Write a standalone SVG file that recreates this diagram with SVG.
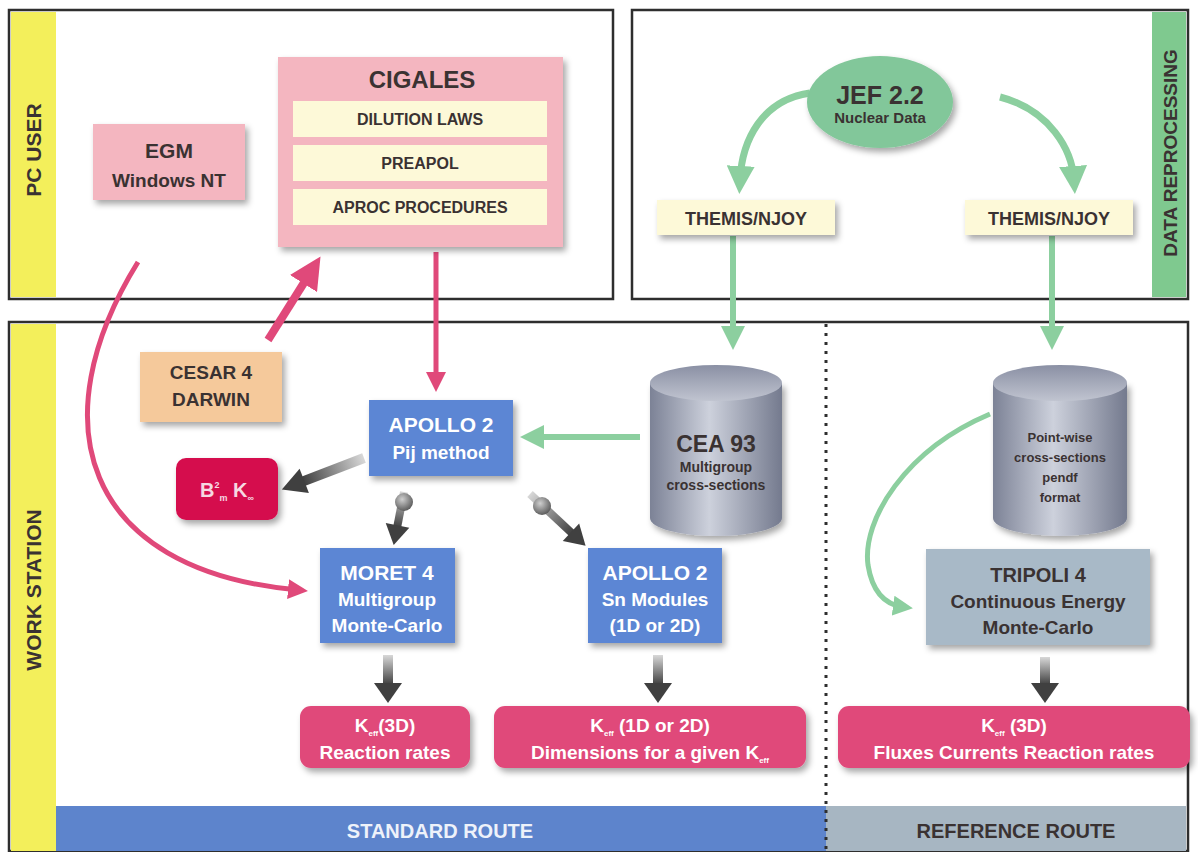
<svg xmlns="http://www.w3.org/2000/svg" width="1198" height="852" viewBox="0 0 1198 852">
<defs>
<style>
text{font-family:"Liberation Sans",Arial,sans-serif;font-weight:bold;text-anchor:middle}
.dk{fill:#3a3232}
.wt{fill:#ffffff}
.frame{fill:#ffffff;stroke:#2e2e2e;stroke-width:2.5}
.pinkbox{fill:#f4b6c0}
.inner{fill:#fdf9d8}
.blue{fill:#5b86d4}
.res{fill:#e0497a}
.pk{fill:none;stroke:#e0497a}
.gr{fill:none;stroke:#8ccf9f}
</style>
<filter id="sh" x="-20%" y="-20%" width="140%" height="150%">
<feDropShadow dx="3" dy="4" stdDeviation="3" flood-color="#000" flood-opacity="0.35"/>
</filter>
<marker id="mpk" viewBox="0 0 10 10" refX="5" refY="5" markerWidth="4" markerHeight="4" orient="auto" markerUnits="strokeWidth">
<path d="M0,0 L10,5 L0,10 z" fill="#e0497a"/>
</marker>
<marker id="mgr" viewBox="0 0 10 10" refX="5" refY="5" markerWidth="4" markerHeight="4" orient="auto" markerUnits="strokeWidth">
<path d="M0,0 L10,5 L0,10 z" fill="#8ccf9f"/>
</marker>
<linearGradient id="gv" x1="0" y1="0" x2="0" y2="1">
<stop offset="0" stop-color="#d8d8d8"/>
<stop offset="1" stop-color="#3e3e3e"/>
</linearGradient>
<linearGradient id="cyl" x1="0" y1="0" x2="1" y2="0">
<stop offset="0" stop-color="#7c8296"/>
<stop offset="0.45" stop-color="#cdd1dc"/>
<stop offset="1" stop-color="#747a8e"/>
</linearGradient>
<linearGradient id="cyltop" x1="0" y1="0" x2="0" y2="1">
<stop offset="0" stop-color="#8a90a4"/>
<stop offset="1" stop-color="#c0c4d0"/>
</linearGradient>
<radialGradient id="ball" cx="0.4" cy="0.35" r="0.7">
<stop offset="0" stop-color="#cfcfcf"/>
<stop offset="1" stop-color="#555"/>
</radialGradient>
</defs>

<rect x="0" y="0" width="1198" height="852" fill="#ffffff"/>

<!-- Panels -->
<g id="panel-pc-user">
<rect class="frame" x="9" y="10" width="604" height="289"/>
<rect x="11" y="12" width="45" height="285" fill="#f3ef5b"/>
<text class="dk" x="41" y="150" font-size="21" transform="rotate(-90 41 150)">PC USER</text>
</g>
<g id="panel-data-reprocessing">
<rect class="frame" x="632" y="10" width="556" height="289"/>
<rect x="1152" y="12" width="34" height="285" fill="#7fc98f"/>
<text class="dk" x="1177" y="153" font-size="19" transform="rotate(-90 1177 153)">DATA REPROCESSING</text>
</g>
<g id="panel-work-station">
<rect class="frame" x="9" y="322" width="1179" height="529"/>
<rect x="11" y="324" width="45" height="527" fill="#f3ef5b"/>
<text class="dk" x="41" y="590" font-size="21" transform="rotate(-90 41 590)">WORK STATION</text>
<rect x="56" y="806" width="770" height="45" fill="#5d84cc"/>
<text x="440" y="838" font-size="20" fill="#eef2fa">STANDARD ROUTE</text>
<rect x="826" y="806" width="360" height="45" fill="#a7b6c2"/>
<text class="dk" x="1016" y="838" font-size="20">REFERENCE ROUTE</text>
<line x1="826" y1="324" x2="826" y2="851" stroke="#2e2e2e" stroke-width="3" stroke-dasharray="3 6"/>
</g>

<!-- Connectors -->
<g id="connectors">
<path class="pk" d="M138 262 C40 420 80 570 298 590" stroke-width="5" marker-end="url(#mpk)"/>
<path class="pk" d="M268 340 L312 270" stroke-width="8" marker-end="url(#mpk)"/>
<path class="pk" d="M436 252 L436 382" stroke-width="5" marker-end="url(#mpk)"/>
<path class="gr" d="M640 437 L532 437" stroke-width="6" marker-end="url(#mgr)"/>
<path class="gr" d="M810 93 C762 100 742 140 740 180" stroke-width="7" marker-end="url(#mgr)"/>
<path class="gr" d="M1000 97 C1050 110 1072 150 1074 180" stroke-width="7" marker-end="url(#mgr)"/>
<path class="gr" d="M733 236 L733 338" stroke-width="6" marker-end="url(#mgr)"/>
<path class="gr" d="M1052 236 L1052 338" stroke-width="6" marker-end="url(#mgr)"/>
<path class="gr" d="M990 414 C905 450 862 520 868 565 Q874 603 903 607" stroke-width="5" marker-end="url(#mgr)"/>
<g transform="translate(364,458) rotate(69)">
<rect x="-5" y="0" width="10" height="66" fill="url(#gv)"/>
<polygon points="-13,64 13,64 0,88" fill="#404040"/>
</g>
<g transform="translate(404,492) rotate(11)">
<rect x="-4" y="0" width="8" height="36" fill="url(#gv)"/>
<polygon points="-12,34 12,34 0,54" fill="#404040"/>
</g>
<circle cx="404" cy="502" r="9" fill="url(#ball)"/>
<g transform="translate(530,494) rotate(-47)">
<rect x="-4" y="0" width="8" height="58" fill="url(#gv)"/>
<polygon points="-12,56 12,56 0,76" fill="#404040"/>
</g>
<circle cx="542" cy="506" r="9" fill="url(#ball)"/>
<g transform="translate(388,655)">
<rect x="-5" y="0" width="10" height="30" fill="url(#gv)"/>
<polygon points="-14,28 14,28 0,48" fill="#404040"/>
</g>
<g transform="translate(658,655)">
<rect x="-5" y="0" width="10" height="30" fill="url(#gv)"/>
<polygon points="-14,28 14,28 0,48" fill="#404040"/>
</g>
<g transform="translate(1045,657)">
<rect x="-5" y="0" width="10" height="28" fill="url(#gv)"/>
<polygon points="-14,26 14,26 0,46" fill="#404040"/>
</g>
</g>

<!-- Nodes -->
<g id="egm">
<rect class="pinkbox" x="93" y="124" width="152" height="76" filter="url(#sh)"/>
<text class="dk" x="169" y="158" font-size="21">EGM</text>
<text class="dk" x="169" y="187" font-size="19">Windows NT</text>
</g>
<g id="cigales">
<rect class="pinkbox" x="278" y="57" width="285" height="190" filter="url(#sh)"/>
<text class="dk" x="422" y="88" font-size="24">CIGALES</text>
<rect class="inner" x="293" y="101" width="254" height="36"/>
<text class="dk" x="420" y="125" font-size="16">DILUTION LAWS</text>
<rect class="inner" x="293" y="145" width="254" height="36"/>
<text class="dk" x="420" y="169" font-size="16">PREAPOL</text>
<rect class="inner" x="293" y="189" width="254" height="36"/>
<text class="dk" x="420" y="213" font-size="16">APROC PROCEDURES</text>
</g>
<g id="jef">
<ellipse cx="880" cy="102" rx="73" ry="46" fill="#82c79a" filter="url(#sh)"/>
<text class="dk" x="880" y="104" font-size="25">JEF 2.2</text>
<text class="dk" x="880" y="123" font-size="15">Nuclear Data</text>
</g>
<g id="themis-left">
<rect class="inner" x="657" y="200" width="178" height="35" filter="url(#sh)"/>
<text class="dk" x="746" y="225" font-size="18">THEMIS/NJOY</text>
</g>
<g id="themis-right">
<rect class="inner" x="965" y="200" width="168" height="35" filter="url(#sh)"/>
<text class="dk" x="1049" y="225" font-size="18">THEMIS/NJOY</text>
</g>
<g id="cesar">
<rect x="140" y="352" width="142" height="70" fill="#f5c99b" filter="url(#sh)"/>
<text class="dk" x="211" y="379" font-size="19">CESAR 4</text>
<text class="dk" x="211" y="406" font-size="19">DARWIN</text>
</g>
<g id="apollo-pij">
<rect class="blue" x="369" y="400" width="144" height="76" filter="url(#sh)"/>
<text class="wt" x="441" y="432" font-size="21">APOLLO 2</text>
<text class="wt" x="441" y="459" font-size="19">Pij method</text>
</g>
<g id="buckling">
<rect x="176" y="458" width="102" height="62" rx="10" fill="#d5104e" filter="url(#sh)"/>
<text fill="#f6d8e2" x="227" y="497" font-size="20">B<tspan font-size="9" dy="-9">2</tspan><tspan font-size="9" dy="13">m</tspan><tspan dy="-4"> K</tspan><tspan font-size="9" dy="4">∞</tspan></text>
</g>
<g id="cea93">
<path d="M650 383 L650 518 A66 18 0 0 0 782 518 L782 383 Z" fill="url(#cyl)" filter="url(#sh)"/>
<ellipse cx="716" cy="383" rx="66" ry="18" fill="url(#cyltop)"/>
<text class="dk" x="716" y="452" font-size="23">CEA 93</text>
<text class="dk" x="716" y="472" font-size="14">Multigroup</text>
<text class="dk" x="716" y="490" font-size="14">cross-sections</text>
</g>
<g id="pointwise">
<path d="M993 383 L993 518 A67 18 0 0 0 1127 518 L1127 383 Z" fill="url(#cyl)" filter="url(#sh)"/>
<ellipse cx="1060" cy="383" rx="67" ry="18" fill="url(#cyltop)"/>
<text class="dk" x="1060" y="442" font-size="13">Point-wise</text>
<text class="dk" x="1060" y="462" font-size="13">cross-sections</text>
<text class="dk" x="1060" y="482" font-size="13">pendf</text>
<text class="dk" x="1060" y="502" font-size="13">format</text>
</g>
<g id="moret">
<rect class="blue" x="320" y="548" width="135" height="95" filter="url(#sh)"/>
<text class="wt" x="387" y="580" font-size="21">MORET 4</text>
<text class="wt" x="387" y="606" font-size="19">Multigroup</text>
<text class="wt" x="387" y="632" font-size="19">Monte-Carlo</text>
</g>
<g id="apollo-sn">
<rect class="blue" x="588" y="548" width="134" height="95" filter="url(#sh)"/>
<text class="wt" x="655" y="580" font-size="21">APOLLO 2</text>
<text class="wt" x="655" y="606" font-size="19">Sn Modules</text>
<text class="wt" x="655" y="632" font-size="19">(1D or 2D)</text>
</g>
<g id="tripoli">
<rect x="926" y="549" width="224" height="96" fill="#a8b9c7" filter="url(#sh)"/>
<text class="dk" x="1038" y="582" font-size="20">TRIPOLI 4</text>
<text class="dk" x="1038" y="608" font-size="19">Continuous Energy</text>
<text class="dk" x="1038" y="634" font-size="19">Monte-Carlo</text>
</g>
<g id="res-moret">
<rect class="res" x="300" y="706" width="170" height="62" rx="11" filter="url(#sh)"/>
<text class="wt" x="385" y="732" font-size="19">K<tspan font-size="8" dy="4">eff</tspan><tspan dy="-4">(3D)</tspan></text>
<text class="wt" x="385" y="759" font-size="19">Reaction rates</text>
</g>
<g id="res-sn">
<rect class="res" x="494" y="706" width="312" height="62" rx="11" filter="url(#sh)"/>
<text class="wt" x="650" y="732" font-size="19">K<tspan font-size="8" dy="4">eff</tspan><tspan dy="-4"> (1D or 2D)</tspan></text>
<text class="wt" x="650" y="759" font-size="19">Dimensions for a given K<tspan font-size="8" dy="4">eff</tspan></text>
</g>
<g id="res-tripoli">
<rect class="res" x="838" y="706" width="352" height="62" rx="11" filter="url(#sh)"/>
<text class="wt" x="1014" y="732" font-size="19">K<tspan font-size="8" dy="4">eff</tspan><tspan dy="-4"> (3D)</tspan></text>
<text class="wt" x="1014" y="759" font-size="19">Fluxes Currents Reaction rates</text>
</g>
</svg>
